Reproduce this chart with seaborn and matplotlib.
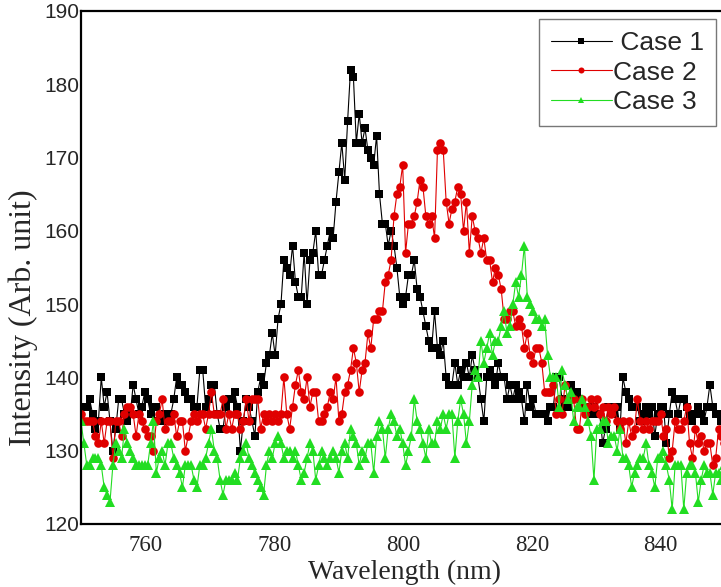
import numpy as np
import pandas as pd
import matplotlib
matplotlib.use("Agg")
import matplotlib.pyplot as plt
import seaborn as sns

# wavelength sampling grid (nm)
wl_start = 750.0
wl_step = 0.45

case1 = [136,136,136,137,135,133,134,140,136,138,134,130,133,137,137,135,134,135,139,137,
         135,136,138,137,135,136,136,134,134,135,134,135,137,140,139,139,138,137,137,136,
         136,141,141,136,137,139,139,135,133,133,136,137,137,138,136,130,134,137,136,134,
         132,138,140,139,142,143,146,143,148,150,156,155,154,158,153,151,151,157,150,156,
         157,160,154,154,156,158,160,159,164,168,172,167,175,182,181,172,176,172,174,171,
         170,169,173,165,161,161,158,160,158,155,151,150,151,154,154,156,152,151,149,147,
         145,144,149,144,143,145,140,139,139,142,139,141,140,142,140,143,141,140,137,134,
         140,141,140,139,142,140,140,137,139,137,139,138,137,134,139,136,137,135,135,135,
         135,134,136,136,140,140,137,136,136,139,138,138,137,136,136,135,135,136,135,135,
         131,133,136,136,135,136,133,140,138,137,136,136,136,134,135,136,135,136,132,135,
         136,136,131,135,138,137,135,137,137,136,135,134,135,136,135,134,136,139,136,135,
         135,134,135]

case2 = [135,134,134,134,134,132,131,134,131,134,134,129,134,134,132,135,136,136,135,132,
         135,134,133,132,132,130,134,135,137,133,134,134,135,132,134,134,130,132,134,135,
         134,135,135,133,135,138,135,135,135,137,133,135,133,135,135,133,134,137,134,137,
         137,137,133,135,134,135,134,135,134,135,140,135,133,136,139,141,138,137,140,136,
         138,138,134,134,135,136,138,137,140,134,135,138,139,141,144,142,138,141,142,146,
         144,148,148,149,149,153,154,156,162,165,166,169,157,161,161,162,164,167,166,162,
         161,162,159,171,172,171,164,161,163,164,166,165,160,164,157,162,160,159,157,159,
         156,156,153,155,154,152,148,148,149,149,147,148,147,144,146,143,142,144,144,142,
         138,138,138,139,135,137,135,139,137,137,137,133,133,137,135,136,137,136,137,135,
         136,134,136,135,136,134,133,134,131,134,132,133,137,134,133,134,133,134,134,134,
         135,132,133,129,130,134,133,133,134,136,131,129,133,131,132,130,131,131,128,129,
         133,132,131]

case3 = [134,131,128,128,129,129,129,128,125,124,123,128,131,130,129,133,131,130,129,128,
         128,128,128,128,131,134,127,129,130,128,131,131,129,128,127,125,128,128,128,126,
         125,128,128,129,131,133,130,129,126,124,126,126,126,127,126,129,130,131,129,128,
         127,126,125,124,128,130,129,131,132,131,129,130,130,129,130,128,126,127,129,131,
         130,126,128,130,129,128,129,130,129,127,130,131,129,133,132,131,128,130,129,131,
         131,127,132,134,133,129,133,135,134,132,133,131,128,130,132,137,134,133,131,129,
         133,131,131,134,133,135,133,135,135,129,134,137,135,131,134,139,141,140,145,142,
         144,146,143,145,145,147,149,146,147,150,153,151,154,158,151,150,149,148,148,147,
         148,143,140,140,140,136,141,139,137,138,134,136,136,137,136,134,132,126,133,133,
         134,134,131,132,132,130,133,129,129,128,125,127,128,129,129,131,128,127,125,129,
         129,130,128,126,122,128,128,128,122,127,128,128,127,123,126,128,127,127,124,127,
         127,126,128]

labels = ["Case 1", "Case 2", "Case 3"]
legend_texts = [" Case 1", "Case 2", "Case 3"]
colors = ["#000000", "#E00000", "#22DD22"]
markers = ["s", "o", "^"]
xticks = [760, 780, 800, 820, 840]
yticks = [120, 130, 140, 150, 160, 170, 180, 190]

n = len(case1)
wavelength = wl_start + wl_step * np.arange(n)

df = pd.concat([
    pd.DataFrame({"Wavelength": wavelength, "Intensity": vals, "Case": lab})
    for vals, lab in zip([case1, case2, case3], labels)
], ignore_index=True)

sns.set_style("white")
plt.rcParams["font.family"] = ["Liberation Sans", "DejaVu Sans"]

W, H = 721, 587
fig = plt.figure(figsize=(W / 100, H / 100), dpi=100)
ax_left, ax_top, ax_bottom = 81, 11, 524
ax_w = 644
ax = fig.add_axes([ax_left / W, (H - ax_bottom) / H, ax_w / W, (ax_bottom - ax_top) / H])

sizes = {"s": 5.6, "o": 6.2, "^": 6.8}
for lab, col, mk in zip(labels, colors, markers):
    sub = df[df["Case"] == lab]
    sns.lineplot(data=sub, x="Wavelength", y="Intensity", ax=ax, color=col,
                 linewidth=0.8, marker=mk, markersize=sizes[mk],
                 markeredgewidth=0, label=lab, sort=False)

ax.set_xlim(750, 850)
ax.set_ylim(120, 190)
ax.set_xticks(xticks)
ax.set_yticks(yticks)
for s in ax.spines.values():
    s.set_linewidth(1.6)
    s.set_color("black")
ax.tick_params(axis="x", direction="in", length=0, pad=8)
ax.tick_params(axis="y", direction="in", length=0, pad=1)
for t in ax.get_xticklabels():
    t.set_fontfamily("Liberation Serif")
    t.set_fontsize(16.5)
for t in ax.get_yticklabels():
    t.set_fontfamily("Liberation Sans")
    t.set_fontsize(15)
ax.set_xlabel("Wavelength (nm)", fontfamily="Liberation Serif", fontsize=20)
ax.xaxis.set_label_coords((405 - ax_left) / ax_w, -(572 - ax_bottom) / (ax_bottom - ax_top))
ax.xaxis.label.set_va("center")
ax.set_ylabel("Intensity (Arb. unit)", fontfamily="Liberation Serif", fontsize=23)
ax.yaxis.set_label_coords((23 - ax_left) / ax_w, (ax_bottom - 318) / (ax_bottom - ax_top))
ax.yaxis.label.set_va("center")

h, _ = ax.get_legend_handles_labels()
leg = ax.legend(h, legend_texts, loc="upper left",
                bbox_to_anchor=((539 - ax_left) / ax_w, 1 - (19 - ax_top) / (ax_bottom - ax_top)),
                borderaxespad=0.0, frameon=True, fancybox=False, edgecolor="#555555",
                handlelength=2.3, handletextpad=0.05, labelspacing=0.22,
                borderpad=0.45, markerscale=0.7,
                prop={"family": "Liberation Sans", "size": 19})
leg.get_frame().set_linewidth(1.0)

fig.savefig("out.png", dpi=100)
